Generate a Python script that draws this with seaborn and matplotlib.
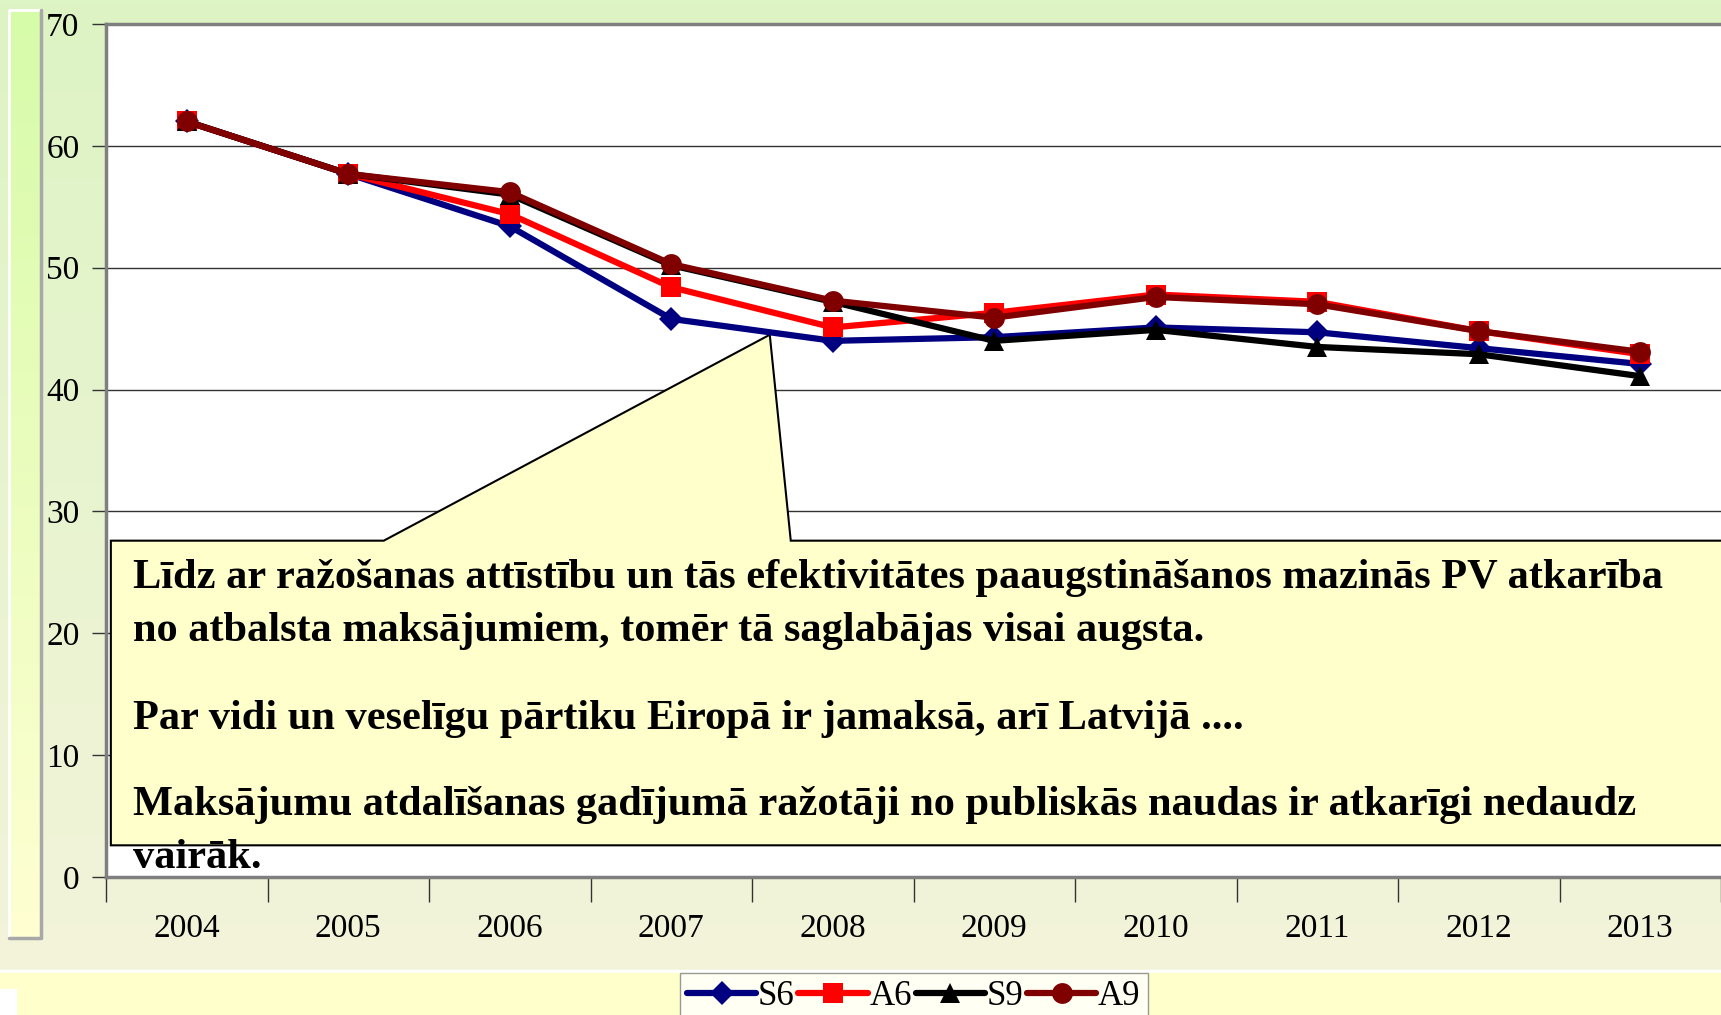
import numpy as np
import pandas as pd
import seaborn as sns
import matplotlib.pyplot as plt
from matplotlib.patches import Polygon, Rectangle
from matplotlib.colors import LinearSegmentedColormap
from matplotlib.lines import Line2D

# data
years = ['2004', '2005', '2006', '2007', '2008', '2009', '2010', '2011', '2012', '2013']
s6 = [62.0, 57.7, 53.4, 45.8, 44.0, 44.3, 45.1, 44.7, 43.4, 42.1]
a6 = [62.0, 57.7, 54.4, 48.4, 45.1, 46.3, 47.8, 47.2, 44.8, 42.9]
s9 = [62.0, 57.7, 56.0, 50.2, 47.2, 44.0, 44.9, 43.5, 42.9, 41.1]
a9 = [62.0, 57.7, 56.2, 50.3, 47.3, 45.9, 47.6, 47.0, 44.8, 43.1]
series = ['S6', 'A6', 'S9', 'A9']
colors = {'S6': '#000080', 'A6': '#ff0000', 'S9': '#000000', 'A9': '#800000'}
markers = {'S6': 'D', 'A6': 's', 'S9': '^', 'A9': 'o'}
msizes = {'S6': 12, 'A6': 14, 'S9': 15, 'A9': 15}

callout_lines = [
    'Līdz ar ražošanas attīstību un tās efektivitātes paaugstināšanos mazinās PV atkarība',
    'no atbalsta maksājumiem, tomēr tā saglabājas visai augsta.',
    'Par vidi un veselīgu pārtiku Eiropā ir jamaksā, arī Latvijā ....',
    'Maksājumu atdalīšanas gadījumā ražotāji no publiskās naudas ir atkarīgi nedaudz',
    'vairāk.',
]
callout_y = [24.5, 20.2, 13.0, 5.9, 1.6]

df = pd.DataFrame({'year': years * 4,
                   'x': list(range(len(years))) * 4,
                   'value': s6 + a6 + s9 + a9,
                   'series': sum([[s] * len(years) for s in series], [])})

sns.set_style('white')
plt.rcParams['font.family'] = ['Liberation Serif', 'DejaVu Serif']
plt.rcParams['text.color'] = 'black'

W, H = 1721, 1015
fig = plt.figure(figsize=(W / 100, H / 100), dpi=100)

# background
bg = fig.add_axes([0, 0, 1, 1], zorder=-10)
bg.set_xlim(0, W)
bg.set_ylim(H, 0)
bg.axis('off')
cm = LinearSegmentedColormap.from_list('bg', ['#ddf4c4', '#f3f3da'])
grad = np.linspace(0, 1, 256).reshape(-1, 1)
bg.imshow(grad, cmap=cm, extent=[0, W, 970, 0], aspect='auto')
bg.add_patch(Rectangle((0, 970), W, 3, color='white'))
bg.add_patch(Rectangle((0, 973), W, 50, color='#ffffcc'))
bg.add_patch(Rectangle((0, 989), 16, 30, color='white'))
cm2 = LinearSegmentedColormap.from_list('wall', ['#d6fba9', '#ffffd2'])
bg.imshow(grad, cmap=cm2, extent=[9, 40, 937, 10], aspect='auto')
bg.plot([9, 9, 40], [937, 10, 10], color='white', lw=2)
bg.plot([9, 41, 41], [938, 938, 10], color='#a8a8a8', lw=2.5)

# plot area
left, top, bottom = 106, 24, 877
ax = fig.add_axes([left / W, 1 - bottom / H, 1 - left / W, (bottom - top) / H])
ax.set_facecolor('white')

for s in series:
    d = df[df['series'] == s]
    sns.lineplot(data=d, x='x', y='value', ax=ax, color=colors[s], lw=4.5,
                 marker=markers[s], markersize=msizes[s], markeredgewidth=0,
                 zorder=3, legend=False)

ax.set_xlim(-0.5, -0.5 + (W - left) / 162)
ax.set_ylim(0, 70)
ax.set_yticks(range(0, 71, 10))
ax.yaxis.grid(True, color='#333333', lw=1)
ax.set_axisbelow(True)
ax.set_xticks(range(len(years)))
ax.set_xticklabels(years)
ax.set_xticks(np.arange(-0.5, len(years), 1), minor=True)
ax.tick_params(axis='x', which='major', length=0, pad=26, labelsize=24, labelcolor='black')
ax.tick_params(axis='x', which='minor', length=18, width=1, color='#333333', direction='out', bottom=True)
ax.tick_params(axis='y', length=10, width=1, color='#333333', direction='out', pad=9,
               labelsize=24, labelcolor='black', left=True)
ax.set_xlabel('')
ax.set_ylabel('')
for side in ['left', 'top', 'bottom']:
    ax.spines[side].set_color('#7f7f7f')
    ax.spines[side].set_linewidth(2.5)
ax.spines['right'].set_visible(False)

# callout
xr = ax.get_xlim()[1] + 0.2
callout = Polygon([(-0.47, 2.6), (-0.47, 27.6), (1.22, 27.6), (3.61, 44.5),
                   (3.74, 27.6), (xr, 27.6), (xr, 2.6)],
                  closed=True, facecolor='#ffffcc', edgecolor='black', lw=1.5, zorder=2.5)
ax.add_patch(callout)
for txt, yy in zip(callout_lines, callout_y):
    ax.text(-0.333, yy, txt, fontsize=30.5, fontweight='bold', color='black',
            va='center', ha='left', zorder=4)

# legend
handles = [Line2D([0], [0], color=colors[s], lw=4.5, marker=markers[s],
                  markersize=msizes[s], markeredgewidth=0) for s in series]
fig.legend(handles, series, loc='upper left', bbox_to_anchor=(680 / W, 1 - 973 / H),
           ncol=4, fontsize=25, frameon=True, fancybox=False, edgecolor='#808080',
           handlelength=2.0, handletextpad=0.05, columnspacing=0.1, borderpad=0.2,
           borderaxespad=0)

fig.savefig('out.png', dpi=100)
